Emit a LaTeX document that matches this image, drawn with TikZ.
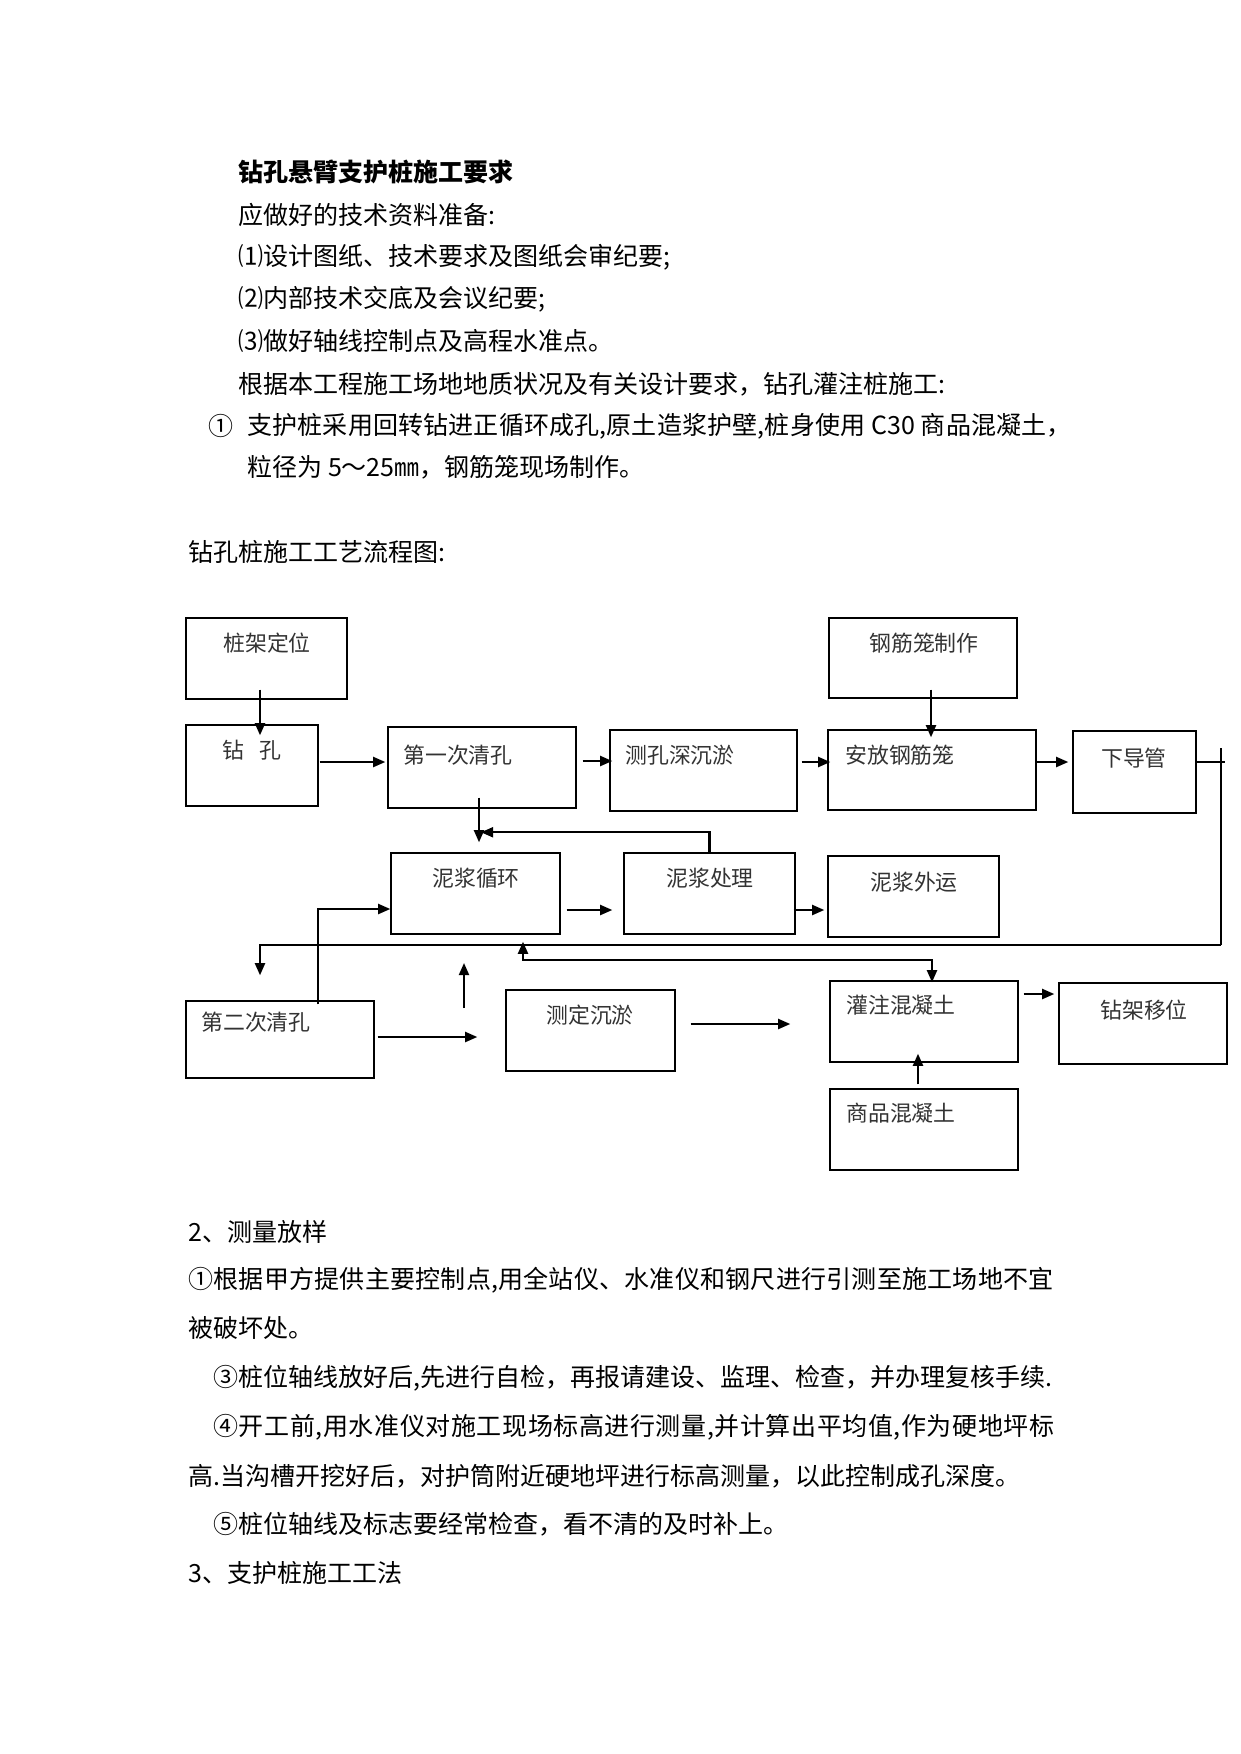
\documentclass[tikz,border=0pt]{standalone}
\usepackage{fontspec}
\setmainfont{Noto Sans CJK SC}
\usetikzlibrary{fit,calc,arrows.meta}
\begin{document}
\begin{tikzpicture}[x=0.4797pt,y=-0.4797pt,
 box/.style={draw, line width=0.7pt, inner sep=0pt, rectangle},
 btxt/.style={font=\fontsize{10.5pt}{12pt}\selectfont, text=black!80, inner sep=0pt},
 body/.style={font=\fontsize{12pt}{14pt}\selectfont, anchor=west, inner sep=0pt},
 arr/.style={line width=1pt, -{Triangle[length=5.8pt,width=4.8pt]}},
 arrb/.style={line width=1pt, {Triangle[length=5.8pt,width=4.8pt]}-{Triangle[length=5.8pt,width=4.8pt]}},
 ln/.style={line width=1pt},
 thinln/.style={line width=0.5pt}]
\useasboundingbox[fill=white] (0,0) rectangle (1241,1754);

% body text
\node[body,font=\fontsize{12pt}{14pt}\selectfont\bfseries] (l0) at (238,172) {钻孔悬臂支护桩施工要求};
\node[body] (l1) at (238,215) {应做好的技术资料准备:};
\node[body] (l2) at (238,257) {⑴设计图纸、技术要求及图纸会审纪要;};
\node[body] (l3) at (238,299) {⑵内部技术交底及会议纪要;};
\node[body] (l4) at (238,341) {⑶做好轴线控制点及高程水准点。};
\node[body] (l5) at (238,384) {根据本工程施工场地地质状况及有关设计要求，钻孔灌注桩施工:};
\node[body] (l6a) at (208,426) {①};
\node[body,font=\fontsize{12pt}{14pt}\selectfont\addfontfeature{LetterSpace=0.6}] (l6b) at (247,426) {支护桩采用回转钻进正循环成孔,原土造浆护壁,桩身使用 C30 商品混凝土，};
\node[body] (l7) at (247,467) {粒径为 5～25㎜，钢筋笼现场制作。};
\node[body] (l8) at (188,552) {钻孔桩施工工艺流程图:};
\node[body] (l9) at (188,1232) {2、测量放样};
\node[body,font=\fontsize{12pt}{14pt}\selectfont\addfontfeature{LetterSpace=0.9}] (l10) at (188,1280) {①根据甲方提供主要控制点,用全站仪、水准仪和钢尺进行引测至施工场地不宜};
\node[body] (l11) at (188,1328) {被破坏处。};
\node[body] (l12) at (213,1378) {③桩位轴线放好后,先进行自检，再报请建设、监理、检查，并办理复核手续.};
\node[body,font=\fontsize{12pt}{14pt}\selectfont\addfontfeature{LetterSpace=2.3}] (l13) at (213,1427) {④开工前,用水准仪对施工现场标高进行测量,并计算出平均值,作为硬地坪标};
\node[body] (l14) at (188,1476) {高.当沟槽开挖好后，对护筒附近硬地坪进行标高测量，以此控制成孔深度。};
\node[body] (l15) at (213,1524) {⑤桩位轴线及标志要经常检查，看不清的及时补上。};
\node[body] (l16) at (188,1573) {3、支护桩施工工法};

% boxes
\node[box, fit={(186,618) (347,699)}] (b1) {};
\node[box, fit={(186,725) (318,806)}] (b2) {};
\node[box, fit={(388,727) (576,808)}] (b3) {};
\node[box, fit={(610,730) (797,811)}] (b4) {};
\node[box, fit={(829,618) (1017,698)}] (b5) {};
\node[box, fit={(828,730) (1036,810)}] (b6) {};
\node[box, fit={(1073,731) (1196,813)}] (b7) {};
\node[box, fit={(391,853) (560,934)}] (b8) {};
\node[box, fit={(624,853) (795,934)}] (b9) {};
\node[box, fit={(828,856) (999,937)}] (b10) {};
\node[box, fit={(186,1001) (374,1078)}] (b11) {};
\node[box, fit={(506,990) (675,1071)}] (b12) {};
\node[box, fit={(830,981) (1018,1062)}] (b13) {};
\node[box, fit={(1059,983) (1227,1064)}] (b14) {};
\node[box, fit={(830,1089) (1018,1170)}] (b15) {};

% box labels
\node[btxt] (t1) at (267,643) {桩架定位};
\node[btxt] (t2) at (252,750) {钻\hspace{0.7em}孔};
\node[btxt] (t3) at (458,755) {第一次清孔};
\node[btxt] (t4) at (680,755) {测孔深沉淤};
\node[btxt] (t5) at (924,643) {钢筋笼制作};
\node[btxt] (t6) at (900,755) {安放钢筋笼};
\node[btxt] (t7) at (1134,758) {下导管};
\node[btxt] (t8) at (476,878) {泥浆循环};
\node[btxt] (t9) at (710,878) {泥浆处理};
\node[btxt] (t10) at (914,882) {泥浆外运};
\node[btxt] (t11) at (256,1022) {第二次清孔};
\node[btxt] (t12) at (590,1015) {测定沉淤};
\node[btxt] (t13) at (901,1005) {灌注混凝土};
\node[btxt] (t14) at (1144,1010) {钻架移位};
\node[btxt] (t15) at (901,1113) {商品混凝土};

% connectors
\draw[arr] ($(b1.south)+(-6.5,-10)$) -- ($(b2.north)+(8,11)$);
\draw[arr] ($(b2.east)+(1,-3.5)$) -- ($(b3.west)+(-2,-5.5)$);
\draw[arr] ($(b3.east)+(6,-6.5)$) -- ($(b4.west)+(3,-9.5)$);
\draw[arr] ($(b4.east)+(4,-8.5)$) -- ($(b6.west)+(3,-8)$);
\draw[arr] ($(b6.east)+(0,-8)$) -- ($(b7.west)+(-4,-10)$);
\draw[arr] ($(b5.south)+(8,-9)$) -- ($(b6.north)+(-1,8)$);

\coordinate (r0) at (1225,762);
\coordinate (r1) at (1221,748);
\coordinate (r2) at (1221,945);
\draw[thinln] ($(b7.east)+(0,-10)$) -- (r0);
\draw[thinln] (r1) -- (r2);
\draw[arr] (r2) -| ($(b11.north)+(-20,-25)$);

\draw[arr] ($(b3.south)+(-3,-11)$) -- ($(b8.north)+(3.5,-10)$);
\draw[arr] (b9.north) |- ($(b8.north)+(5.5,-20)$);
\draw[arr] ($(b8.east)+(6,16.5)$) -- ($(b9.west)+(-11,16.5)$);
\draw[arr] ($(b9.east)+(-2,16.5)$) -- ($(b10.west)+(-3,13.5)$);
\draw[arr] ($(b11.north)+(38,4)$) |- ($(b8.west)+(0,15.5)$);

\coordinate (u1) at (464,1008);
\coordinate (u2) at (464,963);
\draw[arr] (u1) -- (u2);

\draw[arr] ($(b11.east)+(3,-2.5)$) -- ($(b12.west)+(-28,6.5)$);
\draw[arr] ($(b12.east)+(15,-6.5)$) -- ($(b13.west)+(-39,2.5)$);
\draw[arrb] ($(b8.south)+(47.5,7)$) |- ($(b13.north)+(8,-20)$) -- ($(b13.north)+(8,2)$);
\draw[arr] ($(b13.east)+(5,-27.5)$) -- ($(b14.west)+(-4,-29.5)$);
\draw[arr] ($(b15.north)+(-6,-4)$) -- ($(b13.south)+(-6,-9)$);
\end{tikzpicture}
\end{document}
